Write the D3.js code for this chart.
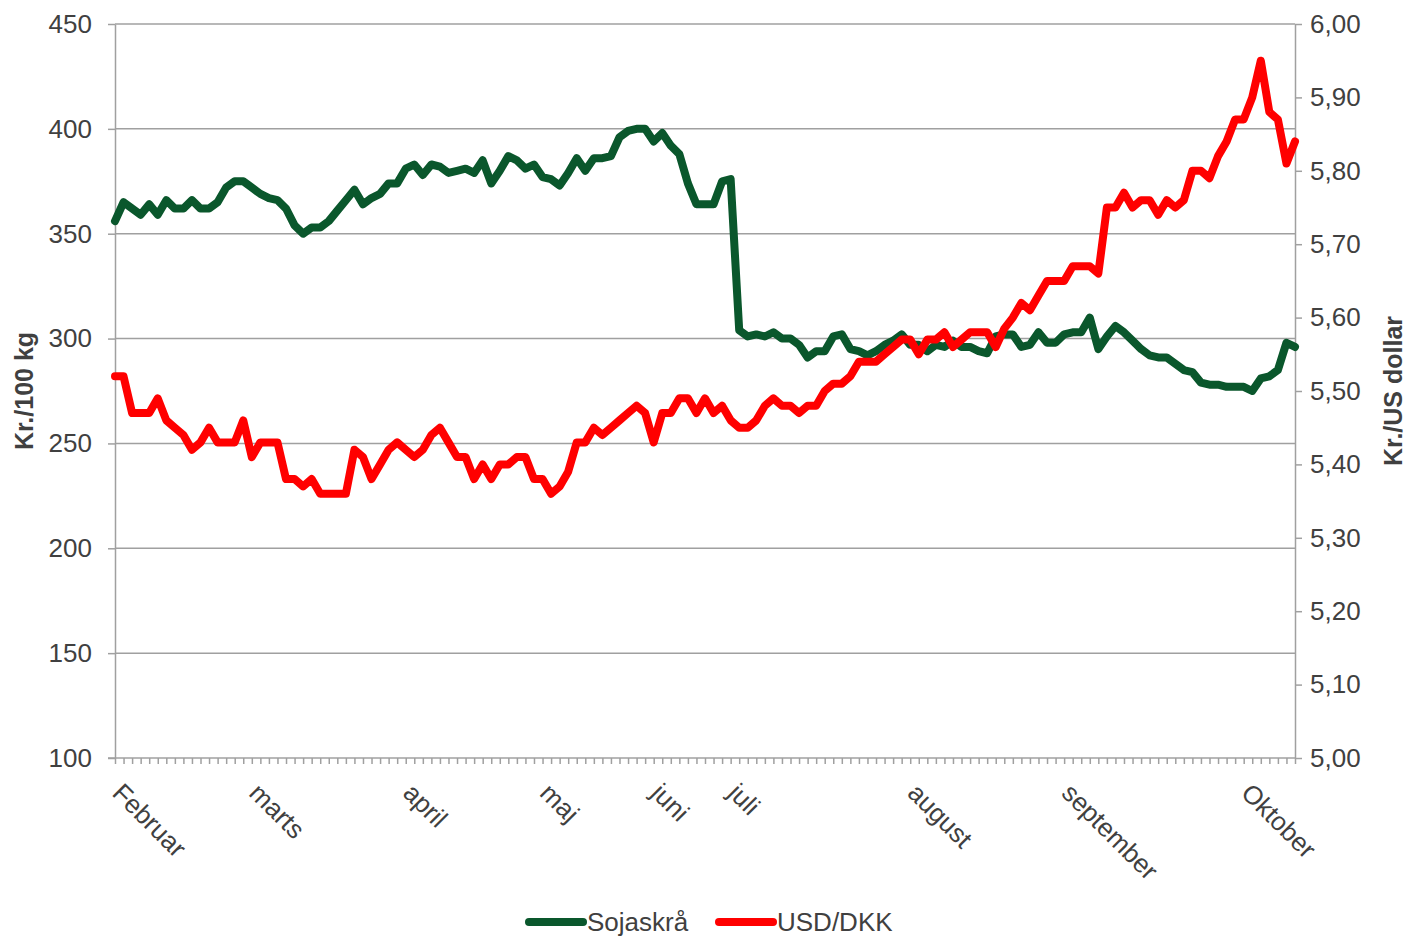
<!DOCTYPE html>
<html>
<head>
<meta charset="utf-8">
<script src="https://cdn.jsdelivr.net/npm/d3@7"></script>
<style>
	body { margin: 0; background: #fff; }
	text { font-family: "Liberation Sans", Arial, sans-serif; }
</style>
</head>
<body>
<div id="chart"><svg></svg></div>
<script>

// weekly-ish points
var soja = [
	356, 365, 362, 359, 364, 359, 366, 362, 362, 366,
	362, 362, 365, 372, 375, 375, 372, 369, 367, 366,
	362, 354, 350, 353, 353, 356, 361, 366, 371, 364,
	367, 369, 374, 374, 381, 383, 378, 383, 382, 379,
	380, 381, 379, 385, 374, 380, 387, 385, 381, 383,
	377, 376, 373, 379, 386, 380, 386, 386, 387, 396,
	399, 400, 400, 394, 398, 392, 388, 374, 364, 364,
	364, 375, 376, 304, 301, 302, 301, 303, 300, 300,
	297, 291, 294, 294, 301, 302, 295, 294, 292, 294,
	297, 299, 302, 297, 297, 294, 297, 296, 299, 296,
	296, 294, 293, 301, 302, 302, 296, 297, 303, 298,
	298, 302, 303, 303, 310, 295, 301, 306, 303, 299,
	295, 292, 291, 291, 288, 285, 284, 279, 278, 278,
	277, 277, 277, 275, 281, 282, 285, 298, 296
];

var usdDkk = [
	5.52, 5.52, 5.47, 5.47, 5.47, 5.49, 5.46, 5.45, 5.44, 5.42,
	5.43, 5.45, 5.43, 5.43, 5.43, 5.46, 5.41, 5.43, 5.43, 5.43,
	5.38, 5.38, 5.37, 5.38, 5.36, 5.36, 5.36, 5.36, 5.42, 5.41,
	5.38, 5.40, 5.42, 5.43, 5.42, 5.41, 5.42, 5.44, 5.45, 5.43,
	5.41, 5.41, 5.38, 5.40, 5.38, 5.40, 5.40, 5.41, 5.41, 5.38,
	5.38, 5.36, 5.37, 5.39, 5.43, 5.43, 5.45, 5.44, 5.45, 5.46,
	5.47, 5.48, 5.47, 5.43, 5.47, 5.47, 5.49, 5.49, 5.47, 5.49,
	5.47, 5.48, 5.46, 5.45, 5.45, 5.46, 5.48, 5.49, 5.48, 5.48,
	5.47, 5.48, 5.48, 5.50, 5.51, 5.51, 5.52, 5.54, 5.54, 5.54,
	5.55, 5.56, 5.57, 5.57, 5.55, 5.57, 5.57, 5.58, 5.56, 5.57,
	5.58, 5.58, 5.58, 5.56, 5.585, 5.60, 5.62, 5.61, 5.63, 5.65,
	5.65, 5.65, 5.67, 5.67, 5.67, 5.66, 5.75, 5.75, 5.77, 5.75,
	5.76, 5.76, 5.74, 5.76, 5.75, 5.76, 5.80, 5.80, 5.79, 5.82,
	5.84, 5.87, 5.87, 5.90, 5.95, 5.88, 5.87, 5.81, 5.84
];

var monthLabels = ["Februar", "marts", "april", "maj", "juni", "juli", "august", "september", "Oktober"];
var monthIndex = [0, 16, 34, 50, 63, 72, 93, 111, 132];

var leftTicks = [100, 150, 200, 250, 300, 350, 400, 450];
var rightTicks = [5.0, 5.1, 5.2, 5.3, 5.4, 5.5, 5.6, 5.7, 5.8, 5.9, 6.0];

var seriesNames = ["Sojaskrå", "USD/DKK"];
var seriesColors = ["#0a572c", "#ff0000"];

function chart(){

	var width = 1406,
		height = 939,
		left = 115,
		right = 1295,
		top = 24,
		bottom = 758;

	var svg = d3.select("#chart").select("svg")
		.attr("width", width)
		.attr("height", height);

	var x = d3.scalePoint()
		.domain(d3.range(soja.length))
		.range([left, right]);

	var yLeft = d3.scaleLinear()
		.domain([100, 450])
		.range([bottom, top]);

	var yRight = d3.scaleLinear()
		.domain([5, 6])
		.range([bottom, top]);

	var grey = "#a0a0a0",
		textColor = "#404040";

	/* ------- GRID -------*/
	svg.append("g")
		.attr("class", "grid")
		.selectAll("line")
		.data(leftTicks.slice(1))
		.enter()
		.append("line")
		.attr("x1", left)
		.attr("x2", right)
		.attr("y1", function(d) { return yLeft(d); })
		.attr("y2", function(d) { return yLeft(d); })
		.attr("stroke", grey)
		.attr("stroke-width", 1.5);

	/* ------- AXES -------*/
	var gLeft = svg.append("g")
		.attr("transform", "translate(" + left + ",0)")
		.call(d3.axisLeft(yLeft).tickValues(leftTicks).tickSize(7).tickSizeOuter(0).tickPadding(16));

	var commaFmt = d3.format(".2f");
	var gRight = svg.append("g")
		.attr("transform", "translate(" + right + ",0)")
		.call(d3.axisRight(yRight).tickValues(rightTicks).tickSize(7).tickSizeOuter(0).tickPadding(8)
			.tickFormat(function(d) { return commaFmt(d).replace(".", ","); }));

	var gBottom = svg.append("g")
		.attr("transform", "translate(0," + bottom + ")")
		.call(d3.axisBottom(x).tickSize(6).tickSizeOuter(0)
			.tickFormat(function(d) {
				var k = monthIndex.indexOf(d);
				return k < 0 ? "" : monthLabels[k];
			}));

	[gLeft, gRight, gBottom].forEach(function(g){
		g.selectAll("path, line").attr("stroke", grey).attr("stroke-width", 1.5);
		g.selectAll("text")
			.attr("fill", textColor)
			.style("font-size", "26px");
	});

	gBottom.select(".domain").attr("d", "M" + (left - 7) + ",0H" + right);

	gBottom.selectAll("text")
		.attr("y", 0)
		.attr("x", 0)
		.attr("dy", "0.35em")
		.attr("text-anchor", "start")
		.attr("transform", "translate(2,30) rotate(45)");

	/* ------- AXIS TITLES -------*/
	svg.append("text")
		.attr("transform", "translate(33," + (top + bottom) / 2 + ") rotate(-90)")
		.attr("text-anchor", "middle")
		.attr("fill", textColor)
		.style("font-size", "25px")
		.style("font-weight", "bold")
		.text("Kr./100 kg");

	svg.append("text")
		.attr("transform", "translate(1402," + (top + bottom) / 2 + ") rotate(-90)")
		.attr("text-anchor", "middle")
		.attr("fill", textColor)
		.style("font-size", "25px")
		.style("font-weight", "bold")
		.text("Kr./US dollar");

	/* ------- LINES -------*/
	var lineLeft = d3.line()
		.x(function(d, i) { return x(i); })
		.y(function(d) { return yLeft(d); });

	var lineRight = d3.line()
		.x(function(d, i) { return x(i); })
		.y(function(d) { return yRight(d); });

	svg.append("path")
		.datum(soja)
		.attr("d", lineLeft)
		.attr("fill", "none")
		.attr("stroke", seriesColors[0])
		.attr("stroke-width", 8)
		.attr("stroke-linejoin", "round")
		.attr("stroke-linecap", "round");

	svg.append("path")
		.datum(usdDkk)
		.attr("d", lineRight)
		.attr("fill", "none")
		.attr("stroke", seriesColors[1])
		.attr("stroke-width", 8)
		.attr("stroke-linejoin", "round")
		.attr("stroke-linecap", "round");

	/* ------- LEGEND -------*/
	var legendX = [529, 719];
	var legend = svg.append("g")
		.attr("class", "legend")
		.selectAll("g")
		.data(seriesNames)
		.enter()
		.append("g")
		.attr("transform", function(d, i) { return "translate(" + legendX[i] + ",922)"; });

	legend.append("line")
		.attr("x1", 0)
		.attr("x2", 54)
		.attr("stroke", function(d, i) { return seriesColors[i]; })
		.attr("stroke-width", 8)
		.attr("stroke-linecap", "round");

	legend.append("text")
		.attr("x", 58)
		.attr("dy", "0.36em")
		.attr("fill", textColor)
		.style("font-size", "26px")
		.text(function(d) { return d; });
}

chart();
</script>
</body>
</html>
